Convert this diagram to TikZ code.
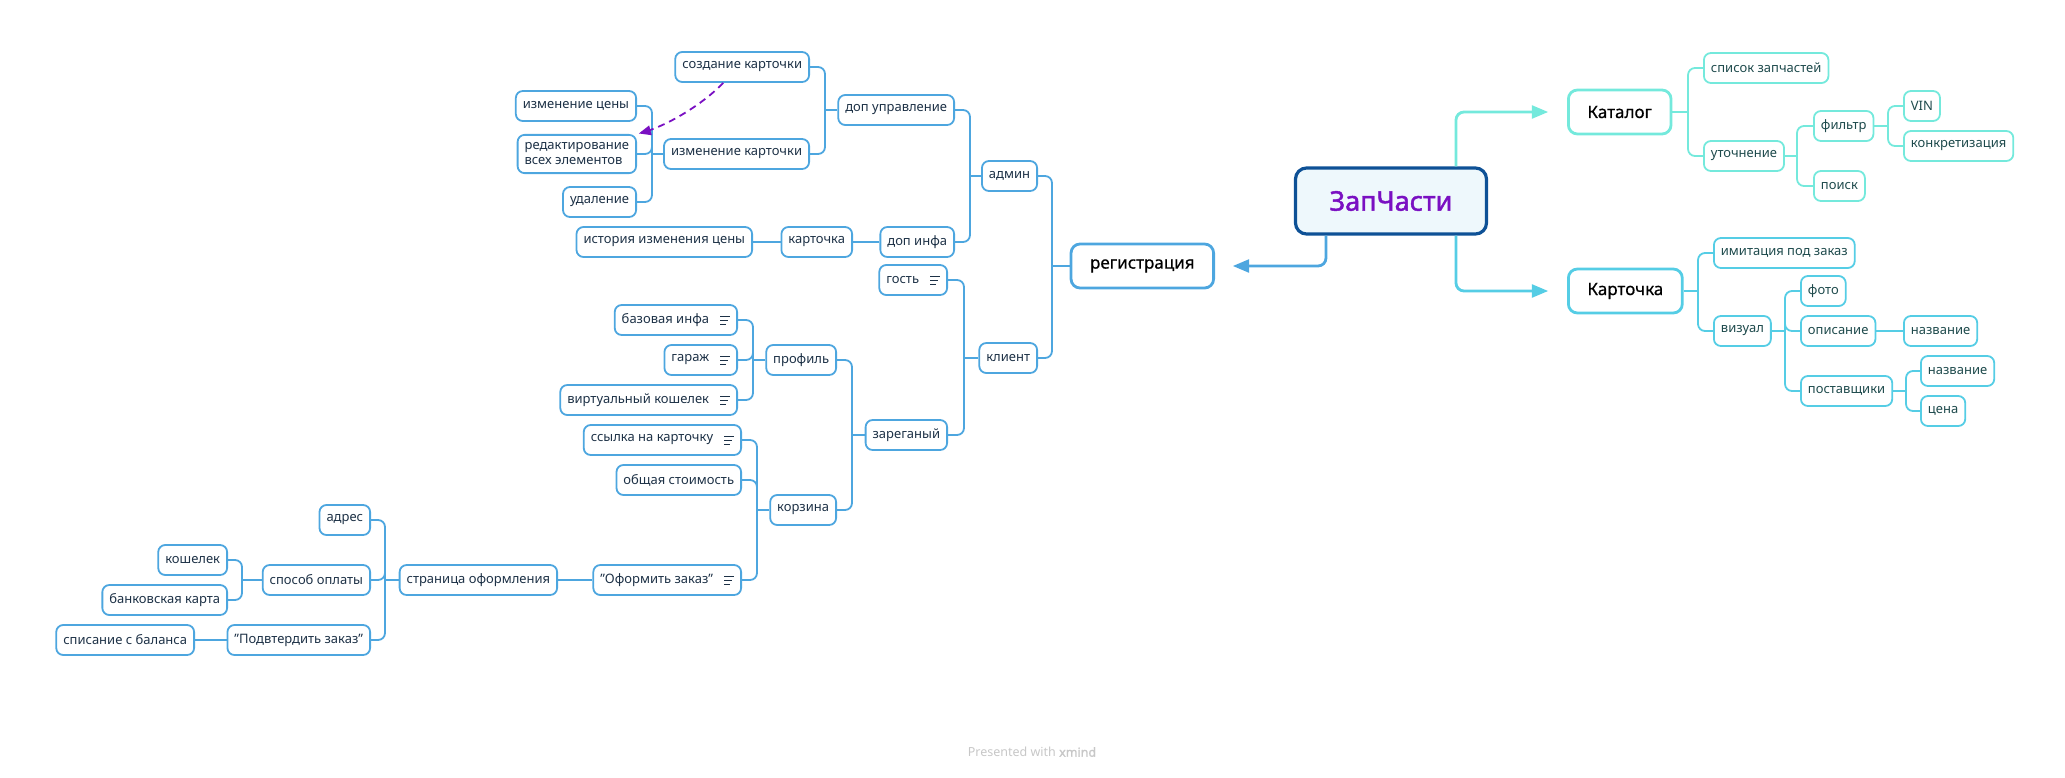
\documentclass[tikz,border=0pt]{standalone}
\usepackage{fontspec}
\setmainfont{Noto Sans}
\newfontfamily\rootfont{Noto Sans}[FakeBold=1.6]
\newfontfamily\creditbold{Noto Sans}[FakeBold=1.5]
\usepackage{tikz}
\usetikzlibrary{arrows,positioning,calc}
\definecolor{regblue}{HTML}{4DA6DF}
\definecolor{catcyan}{HTML}{74E9DC}
\definecolor{cardcyan}{HTML}{55CDE5}
\definecolor{rootblue}{HTML}{0E5196}
\definecolor{rootfill}{HTML}{EEF8FC}
\definecolor{rootpurple}{HTML}{7A10C2}
\definecolor{leaftext}{HTML}{1D3146}
\definecolor{greentext}{HTML}{1E4A4C}
\newcommand{\notegap}{\rule{21pt}{0pt}}
\newcommand{\qt}{\symbol{34}}

\begin{document}
\begin{tikzpicture}[x=1pt,y=-1pt,>=triangle 45,semithick,font=\fontsize{13}{15}\selectfont]
  \tikzstyle{leaf}=[draw,rounded corners=7pt,line width=1.8pt,minimum height=30pt,inner xsep=7pt,inner ysep=3pt,text=leaftext]
  \tikzstyle{lft}=[leaf,anchor=east]
  \tikzstyle{rgt}=[leaf,anchor=west,text=greentext]
  \tikzstyle{topic}=[draw,rounded corners=9pt,line width=2.8pt,minimum height=44pt,inner xsep=19pt,font=\fontsize{17}{20}\selectfont\addfontfeatures{FakeBold=0.5},text=black]
  \tikzstyle{root}=[draw=rootblue,fill=rootfill,rounded corners=11pt,line width=3.2pt,minimum height=66pt,minimum width=191pt,text=rootpurple,font=\rootfont\fontsize{27}{32}\selectfont]
  \tikzstyle{link}=[line width=1.8pt,rounded corners=7pt]
  \tikzstyle{noteline}=[line width=0.9pt,leaftext]

  \useasboundingbox (0,0) rectangle (2065,777);

  % main topic and the three branches
  \node[root] (root) at (1391,201) {ЗапЧасти};
  \node[topic,draw=regblue,anchor=east] (reg) at (1215,266) {регистрация};
  \node[topic,draw=catcyan,anchor=west] (cat) at (1567,112) {Каталог};
  \node[topic,draw=cardcyan,anchor=west] (card) at (1567,291) {Карточка};

  \draw[regblue,line width=2.8pt,->,rounded corners=8pt,shorten >=18pt] ([xshift=-65pt]root.south) |- (reg.east);
  \draw[catcyan,line width=2.8pt,->,rounded corners=8pt,shorten >=19pt] ([xshift=65pt]root.north) |- (cat.west);
  \draw[cardcyan,line width=2.8pt,->,rounded corners=8pt,shorten >=19pt] ([xshift=65pt]root.south) |- (card.west);

  % registration branch
  \begin{scope}[regblue]
    \node[lft] (admin) at (1038,176) {админ};
    \node[lft] (client) at (1038,358) {клиент};
    \node[lft] (upr) at (955,110) {доп управление};
    \node[lft] (info) at (955,242) {доп инфа};
    \node[lft] (create) at (810,67) {создание карточки};
    \node[lft] (edit) at (810,154) {изменение карточки};
    \node[lft] (price) at (637,106) {изменение цены};
    \node[lft,align=left,inner ysep=8pt] (editall) at (637,154) {редактирование\\всех элементов};
    \node[lft] (del) at (637,202) {удаление};
    \node[lft] (cardinfo) at (853,242) {карточка};
    \node[lft] (hist) at (753,242) {история изменения цены};
    \node[lft] (guest) at (948,280) {гость\notegap};
    \node[lft] (signed) at (948,435) {зареганый};
    \node[lft] (profile) at (837,360) {профиль};
    \node[lft] (cart) at (837,510) {корзина};
    \node[lft] (basic) at (738,320) {базовая инфа\notegap};
    \node[lft] (garage) at (738,360) {гараж\notegap};
    \node[lft] (wallet) at (738,400) {виртуальный кошелек\notegap};
    \node[lft] (link) at (742,440) {ссылка на карточку\notegap};
    \node[lft] (total) at (742,480) {общая стоимость};
    \node[lft] (order) at (742,580) {\qt Оформить заказ\qt\notegap};
    \node[lft] (page) at (558,580) {страница оформления};
    \node[lft] (addr) at (371,520) {адрес};
    \node[lft] (pay) at (371,580) {способ оплаты};
    \node[lft] (confirm) at (371,640) {\qt Подвтердить заказ\qt};
    \node[lft] (purse) at (228,560) {кошелек};
    \node[lft] (bank) at (228,600) {банковская карта};
    \node[lft] (debit) at (195,640) {списание с баланса};

    \coordinate (tReg) at (1052,266);
    \coordinate (tAdmin) at (970,176);
    \coordinate (tUpr) at (825,110);
    \coordinate (tEdit) at (652,154);
    \coordinate (tClient) at (964,358);
    \coordinate (tSigned) at (852,435);
    \coordinate (tProfile) at (753,360);
    \coordinate (tCart) at (757,510);
    \coordinate (tPage) at (385,580);
    \coordinate (tPay) at (242,580);

    \draw[link] (reg.west) -- (tReg);
    \draw[link] (tReg) |- (admin.east);
    \draw[link] (tReg) |- (client.east);
    \draw[link] (admin.west) -- (tAdmin);
    \draw[link] (tAdmin) |- (upr.east);
    \draw[link] (tAdmin) |- (info.east);
    \draw[link] (upr.west) -- (tUpr);
    \draw[link] (tUpr) |- (create.east);
    \draw[link] (tUpr) |- (edit.east);
    \draw[link] (edit.west) -- (tEdit);
    \draw[link] (tEdit) |- (price.east);
    \draw[link] (tEdit) |- (editall.east);
    \draw[link] (tEdit) |- (del.east);
    \draw[link] (info.west) -- (cardinfo.east);
    \draw[link] (cardinfo.west) -- (hist.east);
    \draw[link] (client.west) -- (tClient);
    \draw[link] (tClient) |- (guest.east);
    \draw[link] (tClient) |- (signed.east);
    \draw[link] (signed.west) -- (tSigned);
    \draw[link] (tSigned) |- (profile.east);
    \draw[link] (tSigned) |- (cart.east);
    \draw[link] (profile.west) -- (tProfile);
    \draw[link] (tProfile) |- (basic.east);
    \draw[link] (tProfile) |- (garage.east);
    \draw[link] (tProfile) |- (wallet.east);
    \draw[link] (cart.west) -- (tCart);
    \draw[link] (tCart) |- (link.east);
    \draw[link] (tCart) |- (total.east);
    \draw[link] (tCart) |- (order.east);
    \draw[link] (order.west) -- (page.east);
    \draw[link] (page.west) -- (tPage);
    \draw[link] (tPage) |- (addr.east);
    \draw[link] (tPage) |- (pay.east);
    \draw[link] (tPage) |- (confirm.east);
    \draw[link] (pay.west) -- (tPay);
    \draw[link] (tPay) |- (purse.east);
    \draw[link] (tPay) |- (bank.east);
    \draw[link] (confirm.west) -- (debit.east);
  \end{scope}

  % relation
  \draw[rootpurple,line width=1.8pt,->,dash pattern=on 7pt off 5pt,shorten >=2pt]
    (create.220) .. controls ($(create.220)+(-18,19)$) and ($(editall.north east)+(33,-9)$) .. (editall.north east);

  % catalog branch
  \begin{scope}[catcyan]
    \node[rgt] (parts) at (1703,68) {список запчастей};
    \node[rgt] (refine) at (1703,156) {уточнение};
    \node[rgt] (filter) at (1813,126) {фильтр};
    \node[rgt] (search) at (1813,186) {поиск};
    \node[rgt] (vin) at (1903,106) {VIN};
    \node[rgt] (concr) at (1903,146) {конкретизация};

    \coordinate (tCat) at (1688,112);
    \coordinate (tRefine) at (1797,156);
    \coordinate (tFilter) at (1888,126);

    \draw[link] (cat.east) -- (tCat);
    \draw[link] (tCat) |- (parts.west);
    \draw[link] (tCat) |- (refine.west);
    \draw[link] (refine.east) -- (tRefine);
    \draw[link] (tRefine) |- (filter.west);
    \draw[link] (tRefine) |- (search.west);
    \draw[link] (filter.east) -- (tFilter);
    \draw[link] (tFilter) |- (vin.west);
    \draw[link] (tFilter) |- (concr.west);
  \end{scope}

  % card branch
  \begin{scope}[cardcyan]
    \node[rgt] (imit) at (1713,253) {имитация под заказ};
    \node[rgt] (visual) at (1713,331) {визуал};
    \node[rgt] (photo) at (1800,291) {фото};
    \node[rgt] (descr) at (1800,331) {описание};
    \node[rgt] (name1) at (1903,331) {название};
    \node[rgt] (suppl) at (1800,391) {поставщики};
    \node[rgt] (name2) at (1920,371) {название};
    \node[rgt] (price2) at (1920,411) {цена};

    \coordinate (tCard) at (1698,291);
    \coordinate (tVisual) at (1785,331);
    \coordinate (tSuppl) at (1906,391);

    \draw[link] (card.east) -- (tCard);
    \draw[link] (tCard) |- (imit.west);
    \draw[link] (tCard) |- (visual.west);
    \draw[link] (visual.east) -- (tVisual);
    \draw[link] (tVisual) |- (photo.west);
    \draw[link] (tVisual) |- (descr.west);
    \draw[link] (tVisual) |- (suppl.west);
    \draw[link] (descr.east) -- (name1.west);
    \draw[link] (suppl.east) -- (tSuppl);
    \draw[link] (tSuppl) |- (name2.west);
    \draw[link] (tSuppl) |- (price2.west);
  \end{scope}

  % note icons
  \foreach \n in {guest,basic,garage,wallet,link,order}{
    \draw[noteline] ($(\n.east)+(-18,-4)$) -- +(10,0);
    \draw[noteline] ($(\n.east)+(-18,0)$) -- +(8,0);
    \draw[noteline] ($(\n.east)+(-18,4)$) -- +(6,0);
  }

  \node[text=black!22,font=\fontsize{12.5}{14}\selectfont] (credit) at (1032,752) {Presented with {\creditbold xmind}};
\end{tikzpicture}
\end{document}
